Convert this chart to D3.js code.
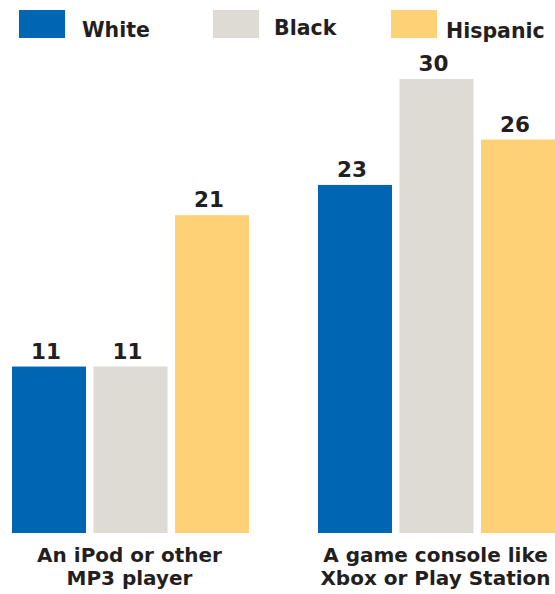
<!DOCTYPE html>
<html><head><meta charset="utf-8">
<script src="https://cdn.jsdelivr.net/npm/d3@7"></script>
<style>
html,body{margin:0;padding:0;background:#fff;}
svg{display:block;}
text{font-family:"DejaVu Sans",sans-serif;font-weight:bold;fill:#231f20;}
</style></head>
<body>
<script>
const categories = ["An iPod or other|MP3 player", "A game console like|Xbox or Play Station"];
const seriesNames = ["White", "Black", "Hispanic"];
const white = [11, 23];
const black = [11, 30];
const hispanic = [21, 26];
const colors = ["#0066b3", "#dedad4", "#fed176"];

const W = 555, H = 594;
const svg = d3.select("body").append("svg").attr("width", W).attr("height", H);

const series = [white, black, hispanic];
const data = categories.map((c, i) => ({cat: c, vals: seriesNames.map((s, j) => ({key: s, v: series[j][i]}))}));

const x0 = d3.scaleBand().domain(categories).range([12, 555]).paddingInner(0.2255).paddingOuter(0);
const x1 = d3.scaleBand().domain(seriesNames).range([0, x0.bandwidth()]).paddingInner(0.092).paddingOuter(0);
const y = d3.scaleLinear().domain([0, 30]).range([533, 79]);
const color = d3.scaleOrdinal().domain(seriesNames).range(colors);

const g = svg.selectAll("g.grp").data(data).join("g").attr("class", "grp")
  .attr("transform", d => `translate(${x0(d.cat)},0)`);

g.selectAll("rect").data(d => d.vals).join("rect")
  .attr("x", d => x1(d.key)).attr("width", x1.bandwidth())
  .attr("y", d => y(d.v)).attr("height", d => y(0) - y(d.v))
  .attr("fill", d => color(d.key));

g.selectAll("text.val").data(d => d.vals).join("text").attr("class", "val")
  .attr("x", d => x1(d.key) + x1.bandwidth() / 2 - 3)
  .attr("y", d => y(d.v) - 8)
  .attr("text-anchor", "middle").attr("font-size", 21.5)
  .text(d => d.v);

// category labels
g.each(function(d) {
  const lines = d.cat.split("|");
  d3.select(this).selectAll("text.cat").data(lines).join("text").attr("class", "cat")
    .attr("x", x0.bandwidth() / 2 - 1)
    .attr("y", (l, i) => 562 + i * 23)
    .attr("text-anchor", "middle").attr("font-size", 20)
    .text(l => l);
});

// legend
const legX = [19, 213, 391];
const legTextX = [82, 274, 446];
const legBase = [37, 35, 38];
const leg = svg.selectAll("g.leg").data(seriesNames).join("g").attr("class", "leg");
leg.append("rect").attr("x", (d, i) => legX[i]).attr("y", 10).attr("width", 46).attr("height", 28)
  .attr("fill", d => color(d));
leg.append("text").attr("x", (d, i) => legTextX[i]).attr("y", (d, i) => legBase[i])
  .attr("font-size", 20.5).text(d => d);
</script>
</body></html>
